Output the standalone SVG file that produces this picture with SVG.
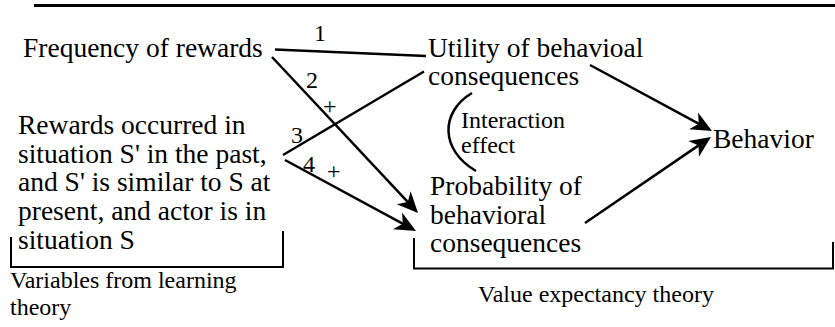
<svg xmlns="http://www.w3.org/2000/svg" width="835" height="327" viewBox="0 0 835 327">
<style>
.t{font-family:'Liberation Serif','Times New Roman',serif;font-size:27.5px;fill:#000}
.s{font-family:'Liberation Serif','Times New Roman',serif;font-size:24px;fill:#000}
.c{fill:none;stroke:#000;stroke-width:2.5}
.b{fill:none;stroke:#000;stroke-width:2}
</style>
<defs>
<marker id="ah" markerUnits="userSpaceOnUse" viewBox="-14 -11 26 22" markerWidth="26" markerHeight="22" refX="0" refY="0" orient="auto">
<path d="M10,0 L-11,-9.5 L-5,0 L-11,9.5 Z" fill="#000"/>
</marker>
</defs>
<rect x="34" y="4" width="801" height="3" fill="#000"/>
<g id="frequency"><text class="t" x="23" y="57">Frequency of rewards</text></g>
<g id="rewards">
<text class="t" x="18" y="134">Rewards occurred in</text>
<text class="t" x="18" y="162.7">situation S' in the past,</text>
<text class="t" x="18" y="191.4">and S' is similar to S at</text>
<text class="t" x="18" y="220.1">present, and actor is in</text>
<text class="t" x="18" y="248.8">situation S</text>
</g>
<g id="utility">
<text class="t" x="428" y="57">Utility of behavioal</text>
<text class="t" x="428" y="85">consequences</text>
</g>
<g id="probability">
<text class="t" x="430" y="195">Probability of</text>
<text class="t" x="430" y="223.5">behavioral</text>
<text class="t" x="430" y="252">consequences</text>
</g>
<g id="behavior"><text class="t" x="713" y="148">Behavior</text></g>
<g id="learning-bracket">
<path class="b" d="M11,237 V267 H283 V231"/>
<text class="s" x="10" y="288">Variables from learning</text>
<text class="s" x="10" y="315">theory</text>
</g>
<g id="value-bracket">
<path class="b" d="M414,238 V268.5 H833 V242"/>
<text class="s" x="478" y="302">Value expectancy theory</text>
</g>
<g id="connectors">
<path class="c" d="M275,49.5 L426,56"/>
<path class="c" d="M272,57 L411.2,205.7" marker-end="url(#ah)"/>
<path class="c" d="M283,155 L424,71.5"/>
<path class="c" d="M285,160 L407.2,226.2" marker-end="url(#ah)"/>
<path class="c" d="M590,65 L703.2,126.2" marker-end="url(#ah)"/>
<path class="c" d="M585,223 L702.7,142.6" marker-end="url(#ah)"/>
<path class="c" d="M472,93 C440,112 440,150 476,171"/>
<text class="s" x="314" y="41">1</text>
<text class="s" x="306" y="88">2</text>
<text class="s" x="323" y="114">+</text>
<text class="s" x="291" y="143">3</text>
<text class="s" x="303" y="172">4</text>
<text class="s" x="327" y="179">+</text>
<text class="s" x="461" y="128">Interaction</text>
<text class="s" x="461" y="153">effect</text>
</g>
</svg>
